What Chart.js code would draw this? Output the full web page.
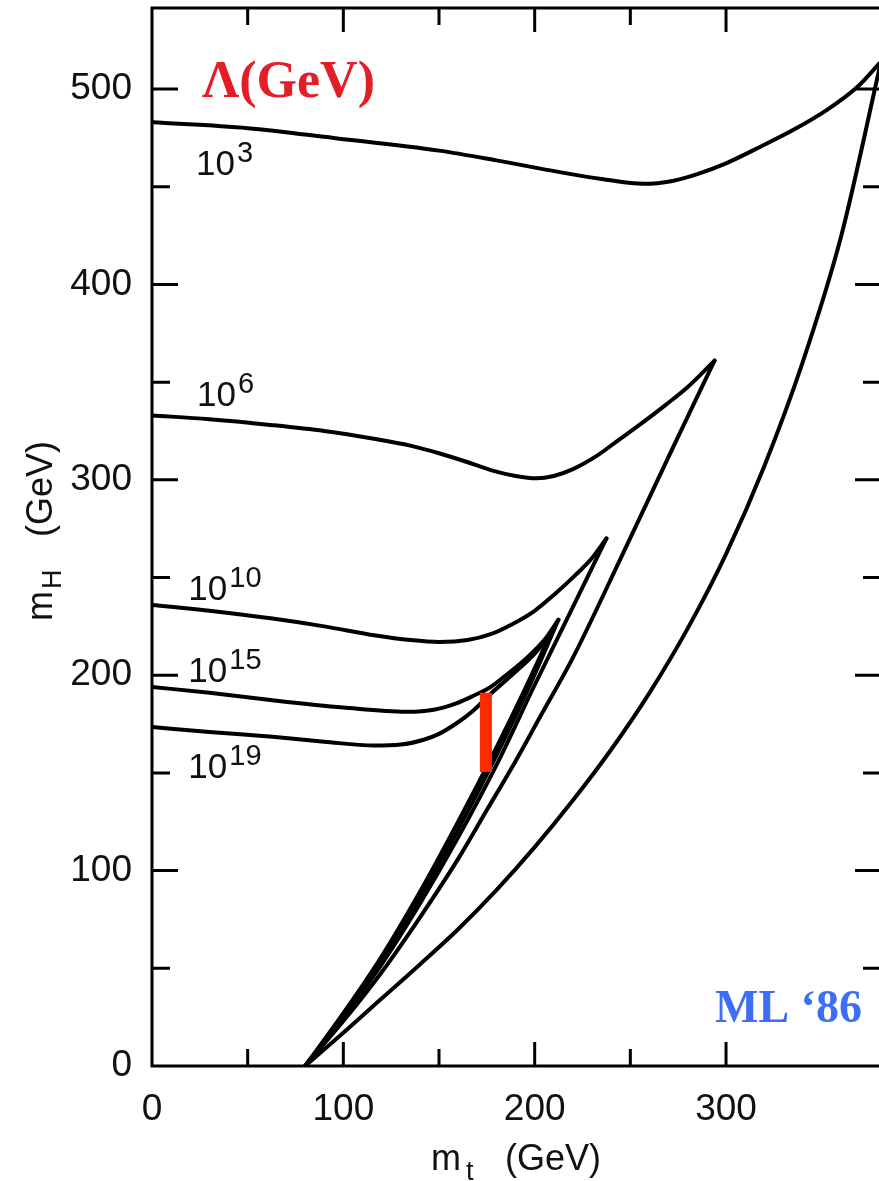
<!DOCTYPE html>
<html>
<head>
<meta charset="utf-8">
<script src="https://cdn.jsdelivr.net/npm/chart.js@4.4.0/dist/chart.umd.min.js"></script>
<style>
  html, body { margin: 0; padding: 0; background: #fff; overflow: hidden; }
  #wrap { position: relative; width: 884px; height: 1181px; }
</style>
</head>
<body>
<div id="wrap"><canvas id="chart" width="884" height="1181"></canvas></div>
<script>
// Higgs mass bounds vs top mass, one closed curve per cut-off scale Lambda.
// Each curve = upper branch (from m_t = 0) + lower branch (from m_t ~ 80), [m_t, m_H] in GeV.
const cutoffExponents = ['3', '6', '10', '15', '19'];

const upper1e3 = [[0,483],[50,480],[95,475],[150,468.5],[180,463.5],[213,457.5],[235,454],[257,451.5],[272,453],[285,456.5],[300,462],[318,470.5],[335,479],[353,489.5],[368,500.5],[381,514]];
const lower1e3 = [[80,0],[100,17],[120,34.5],[140,52],[160,70],[180,90],[200,112],[220,136],[240,162],[260,191],[280,224],[300,262],[320,307],[340,360],[360,424],[381,514]];

const upper1e6 = [[0,333],[30,331],[63,328],[90,325],[116,321],[135,317.5],[150,313.6],[165,309],[177,305],[190,302],[201,300.8],[210,302],[220,305.5],[232,312],[244,320.5],[256,329],[268,338],[280,347.5],[294,361]];
const lower1e6 = [[80,0],[100,23],[120,48],[140,76],[160,106],[175,131],[190,156],[203,179],[220,209],[246,262],[272,316],[294,361]];

const upper1e10 = [[0,236],[30,233],[63,229],[90,225],[116,220.5],[135,218],[150,217],[165,218],[177,221],[188,226],[200,233],[211,242],[221,251],[230,260],[237.5,270]];
const lower1e10 = [[80,0],[100,25],[120,52],[140,83],[160,117],[180,154],[200,195],[220,235],[237.5,270]];

const upper1e15 = [[0,194],[30,191],[63,187.2],[100,183.5],[133,181.3],[148,182.5],[159,185.6],[168,189.5],[177,194],[185,200],[196,209],[205,218],[212.4,228.4]];
const lower1e15 = [[80,0],[100,26],[120,54],[140,86],[160,121],[180,159],[198,196],[212.4,228.4]];

const upper1e19 = [[0,173.5],[30,171],[63,168.5],[90,166],[116,164],[130,164.5],[142,167],[150,170],[159,175.3],[168,182],[177,190.5],[188,200],[199,210],[208,220.5]];
const lower1e19 = [[80,0],[100,27],[120,56],[140,89],[160,125],[180,163],[195,193],[208,220.5]];

// measured top-mass band (red bar)
const topMassBar = [[174.5,150.5],[174.5,191]];

// curve labels: [m_t, m_H] of the left/baseline of "10"
const labelAnchors = [[23,456],[23.5,338],[19,238.5],[19,196.5],[19,147.5]];

const xTickLabels = [0, 100, 200, 300];
const yTickLabels = [0, 100, 200, 300, 400, 500];
const xMinorTicks = [50, 150, 250];
const yMinorTicks = [50, 150, 250, 350, 450];

const toPoints = arr => arr.map(p => ({ x: p[0], y: p[1] }));

const branches = [upper1e3, lower1e3, upper1e6, lower1e6, upper1e10, lower1e10,
                  upper1e15, lower1e15, upper1e19, lower1e19];

const datasets = [{
    data: toPoints(topMassBar),
    borderColor: '#ff2a00',
    borderWidth: 12,
    borderCapStyle: 'butt',
    order: -1
}].concat(branches.map(b => ({
    data: toPoints(b),
    borderColor: '#000',
    borderWidth: 4,
    borderCapStyle: 'round',
    borderJoinStyle: 'round',
    cubicInterpolationMode: 'monotone'
})));

datasets.forEach(d => {
    d.showLine = true;
    d.pointRadius = 0;
    d.fill = false;
});

const tickFont = { family: "'Liberation Sans', Arial, sans-serif", size: 37 };

// no edge padding from the scales: chart area is fixed by layout padding + axis sizes
const fixBox = (s, key, size) => {
    s[key] = size;
    s.paddingTop = 0; s.paddingBottom = 0; s.paddingLeft = 0; s.paddingRight = 0;
};

const overlay = {
    id: 'overlay',
    afterDatasetsDraw(chart) {
        const { ctx, chartArea: a, scales: { x, y } } = chart;
        ctx.save();
        ctx.strokeStyle = '#000';
        ctx.lineWidth = 3;
        ctx.strokeRect(a.left, a.top, a.right - a.left, a.bottom - a.top);

        // inward ticks on all four sides
        const tick = (v, len, axis) => {
            ctx.beginPath();
            if (axis === 'x') {
                const px = x.getPixelForValue(v);
                ctx.moveTo(px, a.bottom); ctx.lineTo(px, a.bottom - len);
                ctx.moveTo(px, a.top); ctx.lineTo(px, a.top + len);
            } else {
                const py = y.getPixelForValue(v);
                ctx.moveTo(a.left, py); ctx.lineTo(a.left + len, py);
                ctx.moveTo(a.right, py); ctx.lineTo(a.right - len, py);
            }
            ctx.stroke();
        };
        xTickLabels.filter(v => v > 0).forEach(v => tick(v, 24, 'x'));
        xMinorTicks.forEach(v => tick(v, 17, 'x'));
        yTickLabels.filter(v => v > 0).forEach(v => tick(v, 26, 'y'));
        yMinorTicks.forEach(v => tick(v, 18, 'y'));

        // curve labels 10^n
        ctx.fillStyle = '#111';
        ctx.textBaseline = 'alphabetic';
        ctx.textAlign = 'left';
        labelAnchors.forEach((p, i) => {
            const px = x.getPixelForValue(p[0]);
            const py = y.getPixelForValue(p[1]);
            ctx.font = "35px 'Liberation Sans', Arial, sans-serif";
            ctx.fillText('10', px, py);
            const w = ctx.measureText('10').width;
            ctx.font = "29px 'Liberation Sans', Arial, sans-serif";
            ctx.fillText(cutoffExponents[i], px + w + 2, py - 13);
        });

        // axis titles
        const big = "36px 'Liberation Sans', Arial, sans-serif";
        const sub = "27px 'Liberation Sans', Arial, sans-serif";
        // x title
        let bx = a.left + 279, by = a.bottom + 104;
        ctx.font = big; ctx.fillText('m', bx, by);
        ctx.font = sub; ctx.fillText('t', bx + 35, by + 10);
        ctx.font = big; ctx.fillText('(GeV)', bx + 74, by);
        // y title (rotated)
        ctx.save();
        ctx.translate(a.left - 100, 621);
        ctx.rotate(-Math.PI / 2);
        ctx.font = big; ctx.fillText('m', 0, 0);
        ctx.font = sub; ctx.fillText('H', 32, 9);
        ctx.font = big; ctx.fillText('(GeV)', 84, 0);
        ctx.restore();

        // Lambda header and signature
        ctx.font = "bold 52px 'Liberation Serif', 'Times New Roman', serif";
        ctx.fillStyle = '#e21e26';
        ctx.fillText('\u039B(GeV)', a.left + 50, a.top + 89);
        ctx.font = "bold 46px 'Liberation Serif', 'Times New Roman', serif";
        ctx.fillStyle = '#3d6ef5';
        ctx.fillText('ML \u201886', a.left + 563, a.bottom - 44);
        ctx.restore();
    }
};

new Chart(document.getElementById('chart'), {
    type: 'scatter',
    data: { datasets: datasets },
    options: {
        responsive: false,
        animation: false,
        layout: { autoPadding: false, padding: { top: 8, right: 3, left: 0, bottom: 0 } },
        plugins: { legend: { display: false }, tooltip: { enabled: false } },
        scales: {
            x: {
                type: 'linear',
                min: 0,
                max: 381,
                afterFit: s => fixBox(s, 'height', 115),
                grid: { display: false, drawTicks: false },
                border: { display: false },
                ticks: {
                    stepSize: 50,
                    includeBounds: false,
                    autoSkip: false,
                    maxRotation: 0,
                    padding: 22,
                    color: '#111',
                    font: tickFont,
                    callback: v => xTickLabels.includes(v) ? String(v) : ''
                }
            },
            y: {
                type: 'linear',
                min: 0,
                max: 541.5,
                afterFit: s => fixBox(s, 'width', 152),
                grid: { display: false, drawTicks: false },
                border: { display: false },
                ticks: {
                    stepSize: 50,
                    includeBounds: false,
                    autoSkip: false,
                    padding: 20,
                    color: '#111',
                    font: tickFont,
                    callback: v => yTickLabels.includes(v) ? String(v) : ''
                }
            }
        }
    },
    plugins: [overlay]
});
</script>
</body>
</html>
